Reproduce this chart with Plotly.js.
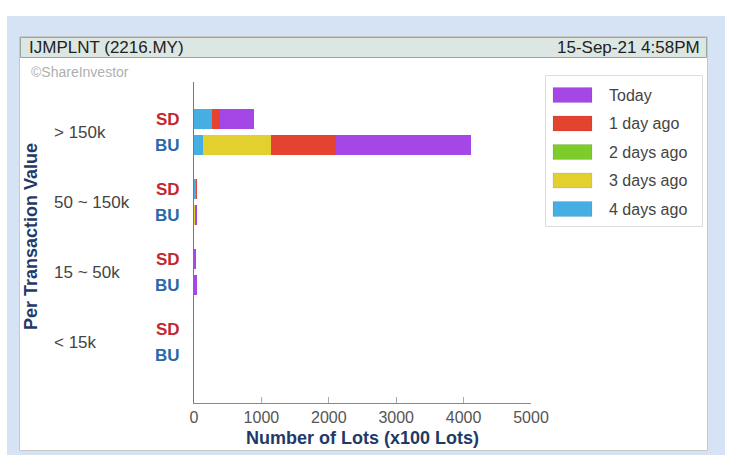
<!DOCTYPE html>
<html><head><meta charset="utf-8">
<script src="https://cdn.plot.ly/plotly-3.0.1.min.js"></script>
<style>html,body{margin:0;padding:0;background:#fff}#chart{width:742px;height:455px}</style>
</head><body><div id="chart"></div>
<script>
// ---- data ----
const groups = ['> 150k', '50 ~ 150k', '15 ~ 50k', '< 15k'];
const sides = ['SD', 'BU'];
const seriesNames = ['Today', '1 day ago', '2 days ago', '3 days ago', '4 days ago'];
const today_SD = [510, 0, 30, 0];
const today_BU = [2000, 30, 40, 0];
const day1_SD = [110, 25, 0, 0];
const day1_BU = [970, 0, 0, 0];
const day2_SD = [0, 0, 0, 0];
const day2_BU = [0, 0, 0, 0];
const day3_SD = [0, 0, 0, 0];
const day3_BU = [1000, 20, 0, 0];
const day4_SD = [270, 25, 0, 0];
const day4_BU = [135, 0, 0, 0];
const xTicks = [0, 1000, 2000, 3000, 4000, 5000];
const headerLeft = 'IJMPLNT (2216.MY)';
const headerRight = '15-Sep-21 4:58PM';
const watermark = '©ShareInvestor';
const xTitle = 'Number of Lots (x100 Lots)';
const yTitle = 'Per Transaction Value';

// ---- styles ----
const colors = ['#a547e6', '#e4432f', '#7dcc2a', '#e2d02e', '#45aee2'];
const sideColors = {SD: '#c1272d', BU: '#2b68a8'};
const W = 742, H = 455;
const M = {l: 194, r: 211, t: 82, b: 52};
const PW = W - M.l - M.r, PH = H - M.t - M.b;
const px = x => (x - M.l) / PW;
const py = y => (H - M.b - y) / PH;
const SUB = 0.371; // BU offset within a group

const yPos = [], tickText = [];
groups.forEach((g, i) => {
  sides.forEach((s, j) => {
    yPos.push(i + j * SUB);
    tickText.push('<b><span style="color:' + sideColors[s] + '">' + s + '</span></b>');
  });
});
function interleave(sd, bu) {
  const out = [];
  sd.forEach((v, i) => { out.push(v); out.push(bu[i]); });
  return out;
}
const seriesData = [
  interleave(today_SD, today_BU),
  interleave(day1_SD, day1_BU),
  interleave(day2_SD, day2_BU),
  interleave(day3_SD, day3_BU),
  interleave(day4_SD, day4_BU)
];
// stacking order: oldest first
const traces = [];
for (let k = seriesNames.length - 1; k >= 0; k--) {
  traces.push({
    type: 'bar', orientation: 'h', name: seriesNames[k],
    x: seriesData[k], y: yPos, width: 0.285,
    marker: {color: colors[k], line: {width: 0}},
    hoverinfo: 'x+name'
  });
}

const font = 'Liberation Sans, Arial, sans-serif';
const shapes = [
  {type: 'rect', xref: 'paper', yref: 'paper', x0: px(7), x1: px(725), y0: py(470), y1: py(16),
   fillcolor: '#d5e3f5', line: {width: 0}, layer: 'below'},
  {type: 'rect', xref: 'paper', yref: 'paper', x0: px(19.5), x1: px(707.5), y0: py(450.5), y1: py(36.5),
   fillcolor: '#ffffff', line: {width: 1, color: '#c8c8c8'}, layer: 'below'},
  {type: 'rect', xref: 'paper', yref: 'paper', x0: px(20.5), x1: px(706.5), y0: py(57.5), y1: py(37.5),
   fillcolor: '#dce7e3', line: {width: 1, color: '#98a6a4'}, layer: 'below'},
  {type: 'rect', xref: 'paper', yref: 'paper', x0: px(545.5), x1: px(702.5), y0: py(226.5), y1: py(75.5),
   fillcolor: '#ffffff', line: {width: 1, color: '#dddddd'}, layer: 'above'}
];
const annotations = [
  {xref: 'paper', yref: 'paper', x: px(27), y: py(47.5), xanchor: 'left', yanchor: 'middle', showarrow: false,
   text: headerLeft, font: {family: font, size: 17, color: '#222'}},
  {xref: 'paper', yref: 'paper', x: px(702), y: py(47.5), xanchor: 'right', yanchor: 'middle', showarrow: false,
   text: headerRight, font: {family: font, size: 17, color: '#222'}},
  {xref: 'paper', yref: 'paper', x: px(29), y: py(72), xanchor: 'left', yanchor: 'middle', showarrow: false,
   text: watermark, font: {family: font, size: 14, color: '#b0b0b0'}},
  {xref: 'paper', yref: 'paper', x: px(31), y: py(237), xanchor: 'center', yanchor: 'middle', showarrow: false,
   textangle: -90, text: '<b>' + yTitle + '</b>', font: {family: font, size: 18, color: '#1f3a68'}}
];
groups.forEach((g, i) => {
  annotations.push({xref: 'paper', yref: 'y', x: px(52), y: i + SUB / 2, xanchor: 'left', yanchor: 'middle',
    showarrow: false, text: g, font: {family: font, size: 17, color: '#444'}});
});
const rowY = [95, 123.5, 152, 180.5, 209];
seriesNames.forEach((n, k) => {
  shapes.push({type: 'rect', xref: 'paper', yref: 'paper', x0: px(553), x1: px(592),
    y0: py(rowY[k] + 7.5), y1: py(rowY[k] - 7.5), fillcolor: colors[k],
    line: {width: 1, color: 'rgba(0,0,0,0.08)'}, layer: 'above'});
  annotations.push({xref: 'paper', yref: 'paper', x: px(607), y: py(rowY[k]), xanchor: 'left', yanchor: 'middle',
    showarrow: false, text: n, font: {family: font, size: 16, color: '#444'}});
});

const layout = {
  width: W, height: H, margin: M,
  paper_bgcolor: '#ffffff', plot_bgcolor: 'rgba(0,0,0,0)',
  showlegend: false, barmode: 'stack',
  font: {family: font},
  xaxis: {
    range: [0, 5000], tickvals: xTicks, ticktext: xTicks.map(String),
    ticks: 'inside', ticklen: 6, tickcolor: '#aaa', tickwidth: 1,
    showline: true, linecolor: '#888', linewidth: 1, showgrid: false, zeroline: false,
    tickfont: {family: font, size: 16, color: '#555'},
    title: {text: xTitle, standoff: 6, font: {family: font, size: 18, color: '#1f3a68', weight: 700}},
    fixedrange: true
  },
  yaxis: {
    range: [4.057, -0.529], tickvals: yPos, ticktext: tickText,
    ticks: '', ticklabelstandoff: 10,
    showline: true, linecolor: '#777', linewidth: 1, showgrid: false, zeroline: false,
    tickfont: {family: font, size: 17},
    fixedrange: true
  },
  shapes: shapes, annotations: annotations
};
Plotly.newPlot('chart', traces, layout, {displayModeBar: false, staticPlot: true});
</script></body></html>
